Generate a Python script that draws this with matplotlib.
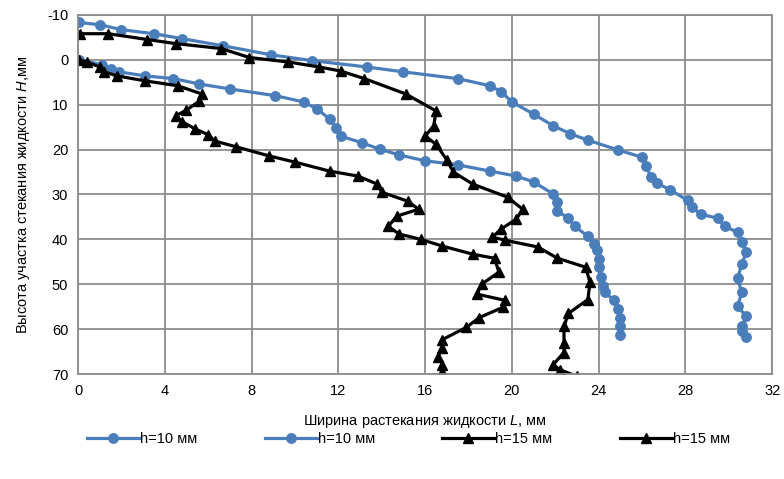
import matplotlib
matplotlib.use("Agg")
import matplotlib.pyplot as plt

plt.rcParams['font.family'] = ['Liberation Sans', 'DejaVu Sans']
plt.rcParams['mathtext.fontset'] = 'custom'
plt.rcParams['mathtext.rm'] = 'Liberation Sans'
plt.rcParams['mathtext.it'] = 'Liberation Sans:italic'
plt.rcParams['axes.unicode_minus'] = False

# Series 1: h=10 мм (upper blue)
s1_x = [0.05, 1.0, 2.0, 3.5, 4.8, 6.7, 8.9, 10.8, 13.3, 15.0, 17.5, 19.0, 19.5, 20.0,
        21.0, 21.9, 22.7, 23.5, 24.9, 26.0, 26.2, 26.4, 26.7, 27.3, 28.1, 28.3, 28.7,
        29.5, 29.8, 30.4, 30.6, 30.8, 30.6, 30.4, 30.6, 30.4, 30.8, 30.6, 30.6, 30.8]
s1_y = [-8.3, -7.8, -6.7, -5.8, -4.7, -3.1, -1.1, 0.2, 1.6, 2.7, 4.2, 5.8, 7.1, 9.4,
        12.1, 14.7, 16.5, 17.9, 20.1, 21.7, 23.7, 26.1, 27.5, 29.0, 31.3, 32.8, 34.4,
        35.3, 37.1, 38.4, 40.6, 42.9, 45.5, 48.7, 51.8, 54.9, 57.1, 59.4, 60.5, 61.8]

# Series 2: h=10 мм (lower blue)
s2_x = [0.05, 1.1, 1.5, 1.9, 3.1, 4.4, 5.6, 7.0, 9.1, 10.4, 11.0, 11.6, 11.9, 12.1,
        13.1, 13.9, 14.8, 16.0, 17.5, 19.0, 20.2, 21.0, 21.9, 22.1, 22.1, 22.6, 22.9,
        23.5, 23.8, 23.9, 24.0, 24.0, 24.1, 24.2, 24.3, 24.7, 24.9, 25.0, 25.0, 25.0]
s2_y = [0.0, 1.1, 2.0, 2.7, 3.6, 4.2, 5.4, 6.5, 8.0, 9.4, 10.9, 13.2, 15.2, 17.0,
        18.5, 19.9, 21.2, 22.5, 23.4, 24.8, 25.9, 27.2, 29.9, 31.7, 33.7, 35.3, 37.1,
        39.3, 41.1, 42.4, 44.4, 46.2, 48.4, 50.4, 51.8, 53.6, 55.4, 57.4, 59.4, 61.4]

# Series 3: h=15 мм (upper black)
s3_x = [0.1, 1.4, 3.2, 4.5, 6.6, 7.9, 9.7, 11.1, 12.1, 13.2, 15.1, 16.5, 16.4, 16.0,
        16.5, 17.0, 17.3, 18.2, 19.8, 20.5, 20.2, 19.5, 19.1, 19.7, 21.2, 22.1, 23.4,
        23.6, 23.5, 22.6, 22.4, 22.4, 22.4, 21.9, 22.2, 23.0]
s3_y = [-5.8, -5.8, -4.5, -3.6, -2.5, -0.5, 0.5, 1.6, 2.5, 4.2, 7.6, 11.4, 14.7, 17.0,
        18.8, 22.3, 25.0, 27.7, 30.6, 33.3, 35.5, 37.7, 39.5, 40.2, 41.7, 44.2, 46.2,
        49.6, 53.4, 56.5, 59.4, 63.0, 65.2, 67.9, 69.0, 70.5]

# Series 4: h=15 мм (lower black)
s4_x = [0.05, 0.4, 1.0, 1.2, 1.8, 3.1, 4.6, 5.7, 5.6, 5.0, 4.5, 4.8, 5.4, 6.0, 6.3,
        7.3, 8.8, 10.0, 11.6, 12.9, 13.8, 14.0, 15.2, 15.7, 14.7, 14.3, 14.8, 15.8,
        16.8, 18.2, 19.2, 19.4, 18.6, 18.4, 19.7, 19.6, 18.5, 17.9, 16.8, 16.8, 16.6,
        16.8, 16.8]
s4_y = [0.0, 0.5, 1.6, 2.7, 3.6, 4.7, 5.8, 7.6, 9.2, 11.2, 12.5, 13.8, 15.4, 16.7,
        18.1, 19.4, 21.4, 22.8, 24.8, 25.9, 27.7, 29.5, 31.5, 33.3, 34.8, 37.1, 38.8,
        40.0, 41.5, 43.3, 44.2, 47.3, 50.0, 52.2, 53.6, 55.1, 57.4, 59.6, 62.3, 64.1,
        66.1, 67.9, 69.6]

x_ticks = [0, 4, 8, 12, 16, 20, 24, 28, 32]
y_ticks = [-10, 0, 10, 20, 30, 40, 50, 60, 70]
labels = ["h=10 мм", "h=10 мм", "h=15 мм", "h=15 мм"]

blue = "#4A7EBB"
fig = plt.figure(figsize=(7.84, 4.79), dpi=100)
ax = fig.add_axes([0.0995, 0.219, 0.8855, 0.750])

ax.plot(s1_x, s1_y, color=blue, lw=2.3, marker='o', ms=6.8, label=labels[0])
ax.plot(s2_x, s2_y, color=blue, lw=2.3, marker='o', ms=6.8, label=labels[1])
ax.plot(s3_x, s3_y, color='black', lw=2.3, marker='^', ms=6.8, label=labels[2])
ax.plot(s4_x, s4_y, color='black', lw=2.3, marker='^', ms=6.8, label=labels[3])

ax.set_xlim(0, 32)
ax.set_ylim(70, -10)
ax.set_xticks(x_ticks)
ax.set_yticks(y_ticks)
ax.tick_params(length=0, labelsize=10.5, colors='black', pad=7)
ax.grid(True, color='#8C8C8C', lw=1.3)
ax.set_axisbelow(True)
for s in ax.spines.values():
    s.set_color('#8C8C8C')
    s.set_linewidth(1.3)

ax.set_xlabel("Ширина растекания жидкости $\\mathit{L}$, мм", fontsize=10.5, labelpad=11)
ax.set_ylabel("Высота участка стекания жидкости $\\mathit{H}$,мм", fontsize=10.5, labelpad=11)

fig.legend(loc='center', bbox_to_anchor=(0.521, 0.084), ncol=4, frameon=False,
           fontsize=10.5, handlelength=3.6, columnspacing=4.6, handletextpad=0.05)

fig.savefig("out.png", dpi=100)
